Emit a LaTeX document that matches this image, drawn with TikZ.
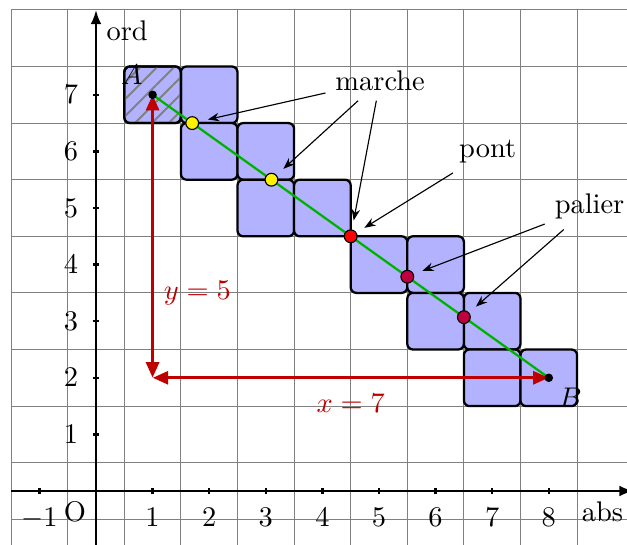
\documentclass[tikz,border=0pt]{standalone}
\usepackage{tikz}
\usetikzlibrary{arrows.meta,patterns.meta}

\begin{document}
\begin{tikzpicture}[x=0.7cm,y=0.7cm,
  cell/.style={draw,thick,fill=blue!30,rounded corners=2pt},
  dot/.style={circle,draw,thin,inner sep=0pt,minimum size=4.5pt},
  arr/.style={-{Stealth[length=4pt]},thin,shorten >=3.2pt},
  mes/.style={{Triangle[length=5.5pt,width=4.5pt]}-{Triangle[length=5.5pt,width=4.5pt]},
    very thick,red!75!black}
]
  \clip (-1.696,-0.954) rectangle (9.382,8.675);
  % quadrillage
  \foreach \x in {-1.5,-0.5,...,9.5}
    \draw[gray,thin] (\x,-1.5) -- (\x,8.5);
  \foreach \y in {-1.5,-0.5,...,8.5}
    \draw[gray,thin] (-1.5,\y) -- (9.5,\y);
  % axes
  \draw[thick,-{Latex[length=5pt]}] (-1.5,0) -- (9.5,0)
    node[below left] (abs) {abs};
  \draw[thick,-{Latex[length=5pt]}] (0,-1) -- (0,8.5)
    node[below right] (ord) {ord};
  \foreach \x in {-1,1,2,...,8}
    \draw[thick] (\x,-0.06) -- (\x,0.06) node[below=0.12cm] (tx\x) {$\x$};
  \foreach \y in {1,...,7}
    \draw[thick] (-0.06,\y) -- (0.06,\y);
  \foreach \y in {1,...,7}
    \node[left] (ty\y) at (-0.14,\y) {$\y$};
  \node[below left] (orig) at (0,0) {O};

  % cases
  \foreach \x/\y in {1/7,2/7,2/6,3/6,3/5,4/5,5/4,6/4,6/3,7/3,7/2,8/2}
    \draw[cell] (\x-0.5,\y-0.5) rectangle ++(1,1);
  \fill[pattern={Lines[angle=45,distance=4.2pt,line width=0.7pt]},pattern color=gray,
    rounded corners=2pt] (0.5,6.5) rectangle ++(1,1);
  \draw[thick,rounded corners=2pt] (0.5,6.5) rectangle ++(1,1);

  \coordinate (A) at (1,7);
  \coordinate (B) at (8,2);
  \coordinate (C) at (1,2);
  \draw[thick,green!70!black] (A) -- (B);
  \draw[mes] (A) -- (C) node[pos=0.7,right] (ly) {$y=5$};
  \draw[mes] (C) -- (B) node[midway,below=2pt] (lx) {$x=7$};

  % points
  \node[circle,fill,inner sep=0pt,minimum size=3pt] (pA) at (A) {};
  \node[circle,fill,inner sep=0pt,minimum size=3pt] (pB) at (B) {};
  \node[above left] (nA) at (A) {$A$};
  \node[below right] (nB) at (B) {$B$};
  \node[dot,fill=yellow] (m1) at (1.7,6.5) {};
  \node[dot,fill=yellow] (m2) at (3.1,5.5) {};
  \node[dot,fill=red] (p1) at (4.5,4.5) {};
  \node[dot,fill=purple] (l1) at (5.5,3.786) {};
  \node[dot,fill=purple] (l2) at (6.5,3.071) {};

  % legendes
  \node (marche) at (5.02,7.25) {marche};
  \node (pont) at (6.92,6.0) {pont};
  \node (palier) at (8.72,5.02) {palier};
  \draw[arr] (marche) -- (m1);
  \draw[arr] (marche) -- (m2);
  \draw[arr] (marche) -- (p1);
  \draw[arr] (pont) -- (p1);
  \draw[arr] (palier) -- (l1);
  \draw[arr] (palier) -- (l2);
\end{tikzpicture}
\end{document}
